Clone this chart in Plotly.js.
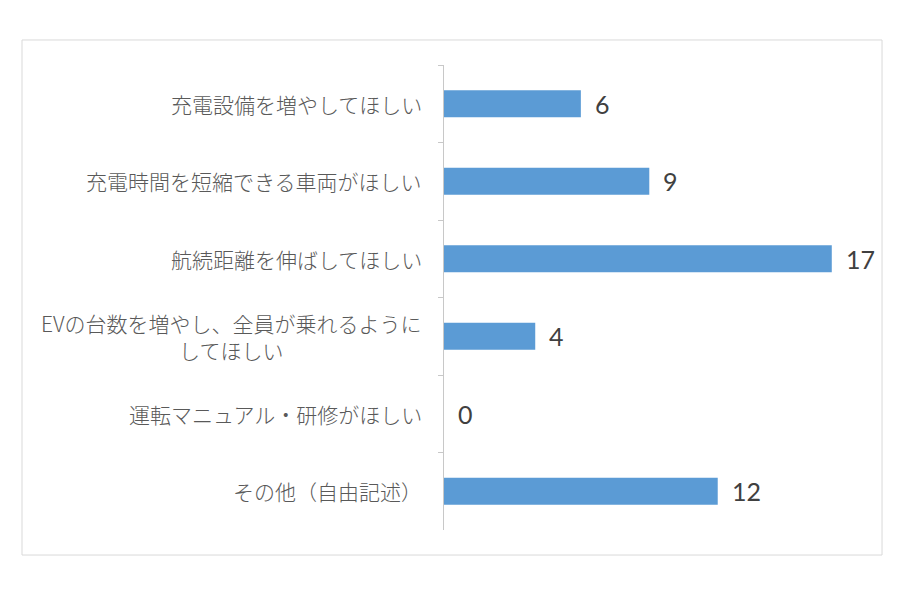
<!DOCTYPE html>
<html>
<head>
<meta charset="utf-8">
<script src="https://cdn.plot.ly/plotly-3.0.1.min.js"></script>
<style>
  body { margin: 0; background: #fff; }
</style>
</head>
<body>
<div id="chart" style="width:900px;height:600px;"></div>
<script>
// categories, top to bottom as in the chart
const categories = [
  "充電設備を増やしてほしい",
  "充電時間を短縮できる車両がほしい",
  "航続距離を伸ばしてほしい",
  "EVの台数を増やし、全員が乗れるように<br>してほしい",
  "運転マニュアル・研修がほしい",
  "その他（自由記述）"
];
const counts = [6, 9, 17, 4, 0, 12];

const barColor = "#5B9BD5";
const labelFont = "'Noto Sans CJK JP', 'Noto Sans', sans-serif";

const trace = {
  type: "bar",
  orientation: "h",
  x: counts,
  y: categories,
  width: 0.35,
  marker: { color: barColor },
  hoverinfo: "none"
};

// category labels (annotations so the wrapped line can be centred)
const catNotes = categories.map(c => ({
  xref: "paper", yref: "y",
  x: 0, y: c,
  xanchor: "right", yanchor: "middle",
  xshift: -20,
  text: c,
  align: "center",
  showarrow: false,
  font: { family: labelFont, size: 21, weight: 300, color: "#595959" }
}));

// value labels at the end of each bar
const valueNotes = counts.map((v, i) => ({
  xref: "x", yref: "y",
  x: v, y: categories[i],
  xanchor: "left", yanchor: "middle",
  xshift: 12,
  text: String(v),
  showarrow: false,
  font: { family: "Lato, 'Liberation Sans', sans-serif", size: 25, color: "#404040" }
}));

const layout = {
  width: 900,
  height: 600,
  margin: { l: 444, r: 34, t: 65, b: 70 },
  paper_bgcolor: "#ffffff",
  plot_bgcolor: "#ffffff",
  showlegend: false,
  xaxis: {
    range: [0, 18.5],
    visible: false,
    showgrid: false,
    zeroline: false,
    fixedrange: true
  },
  yaxis: {
    type: "category",
    categoryorder: "array",
    categoryarray: categories,
    autorange: "reversed",
    showticklabels: false,
    showline: true,
    linecolor: "#C8C8C8",
    linewidth: 1,
    ticks: "outside",
    tickson: "boundaries",
    ticklen: 5,
    tickcolor: "#C8C8C8",
    showgrid: false,
    zeroline: false,
    fixedrange: true
  },
  shapes: [{
    type: "rect",
    xref: "paper", yref: "paper",
    x0: -1.0, x1: 1.038,
    y0: -0.0538, y1: 1.0538,
    line: { color: "#D9D9D9", width: 1 },
    fillcolor: "rgba(0,0,0,0)"
  }],
  annotations: catNotes.concat(valueNotes)
};

Plotly.newPlot("chart", [trace], layout, { displayModeBar: false, staticPlot: true });
</script>
</body>
</html>
